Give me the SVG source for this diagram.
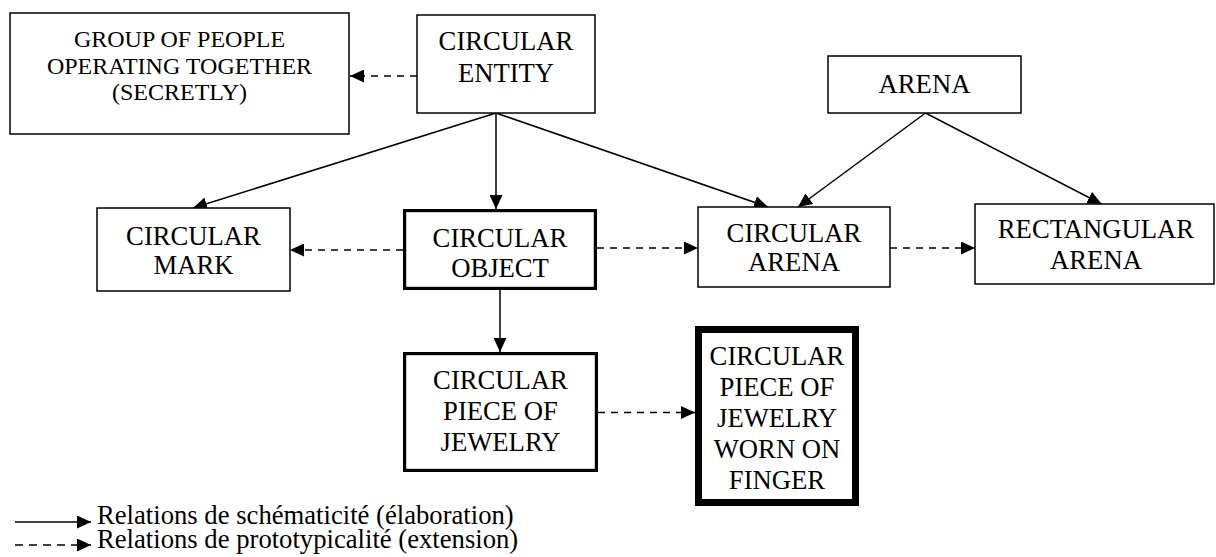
<svg xmlns="http://www.w3.org/2000/svg" width="1216" height="557" viewBox="0 0 1216 557">
<style>
  .box { fill: #fff; stroke: #000; stroke-width: 1.5; }
  .bold { stroke-width: 3.2; }
  .xbold { stroke-width: 7; }
  text { font-family: "Liberation Serif", "Times New Roman", serif; font-size: 26.67px; fill: #000; text-anchor: middle; }
  .small { font-size: 24px; }
  .leg { text-anchor: start; }
  .solid { stroke: #000; stroke-width: 1.5; fill: none; marker-end: url(#ah); }
  .dash { stroke: #000; stroke-width: 1.5; fill: none; stroke-dasharray: 7 6; marker-end: url(#ah); }
</style>
<defs>
  <marker id="ah" markerUnits="userSpaceOnUse" markerWidth="15" markerHeight="13" refX="14" refY="6.5" orient="auto">
    <path d="M0,0 L14,6.5 L0,13 Z" fill="#000"/>
  </marker>
</defs>
<rect width="1216" height="557" fill="#fff"/>

<g id="connectors">
  <line class="solid" x1="496" y1="113" x2="193" y2="208"/>
  <line class="solid" x1="496" y1="113" x2="496" y2="209"/>
  <line class="solid" x1="496" y1="113" x2="768" y2="207"/>
  <line class="solid" x1="925.5" y1="113" x2="798" y2="207"/>
  <line class="solid" x1="925.5" y1="113" x2="1101.5" y2="204"/>
  <line class="solid" x1="500" y1="290" x2="500" y2="352"/>
  <line class="dash" x1="417" y1="76" x2="350" y2="76"/>
  <line class="dash" x1="403" y1="250" x2="290" y2="250"/>
  <line class="dash" x1="597" y1="248" x2="698" y2="248"/>
  <line class="dash" x1="890" y1="248" x2="975" y2="248"/>
  <line class="dash" x1="598" y1="412.5" x2="695" y2="412.5"/>
</g>

<g id="group">
  <rect class="box" x="10" y="13" width="339" height="121"/>
  <text class="small" x="179.5" y="47">GROUP OF PEOPLE</text>
  <text class="small" x="179.5" y="74">OPERATING TOGETHER</text>
  <text class="small" x="179.5" y="100">(SECRETLY)</text>
</g>

<g id="entity">
  <rect class="box" x="417" y="15" width="178" height="98"/>
  <text x="506" y="50">CIRCULAR</text>
  <text x="506" y="82">ENTITY</text>
</g>

<g id="arena">
  <rect class="box" x="828" y="56" width="193" height="57"/>
  <text x="924.5" y="92.5">ARENA</text>
</g>

<g id="mark">
  <rect class="box" x="97" y="208" width="193" height="83"/>
  <text x="193.5" y="245">CIRCULAR</text>
  <text x="193.5" y="274">MARK</text>
</g>

<g id="object">
  <rect class="box bold" x="404.6" y="210.6" width="190.8" height="77.8"/>
  <text x="500" y="246.5">CIRCULAR</text>
  <text x="500" y="276.5">OBJECT</text>
</g>

<g id="circular-arena">
  <rect class="box" x="698" y="207" width="192" height="80"/>
  <text x="794" y="241.5">CIRCULAR</text>
  <text x="794" y="271">ARENA</text>
</g>

<g id="rectangular-arena">
  <rect class="box" x="975" y="204" width="239" height="80"/>
  <text x="1096" y="238">RECTANGULAR</text>
  <text x="1096" y="269">ARENA</text>
</g>

<g id="jewelry">
  <rect class="box bold" x="404.6" y="353.6" width="191.8" height="116.8"/>
  <text x="500.5" y="389">CIRCULAR</text>
  <text x="500.5" y="420">PIECE OF</text>
  <text x="500.5" y="450.5">JEWELRY</text>
</g>

<g id="ring">
  <rect class="box xbold" x="698.5" y="329.5" width="157" height="173"/>
  <text x="777" y="365">CIRCULAR</text>
  <text x="777" y="396">PIECE OF</text>
  <text x="777" y="427">JEWELRY</text>
  <text x="777" y="458">WORN ON</text>
  <text x="777" y="489">FINGER</text>
</g>

<g id="legend">
  <line class="solid" x1="15" y1="522" x2="91" y2="522"/>
  <line class="dash" x1="15" y1="545" x2="91" y2="545" style="stroke-dasharray: 8 6"/>
  <text class="leg" x="97" y="524">Relations de schématicité (élaboration)</text>
  <text class="leg" x="97" y="548">Relations de prototypicalité (extension)</text>
</g>
</svg>
